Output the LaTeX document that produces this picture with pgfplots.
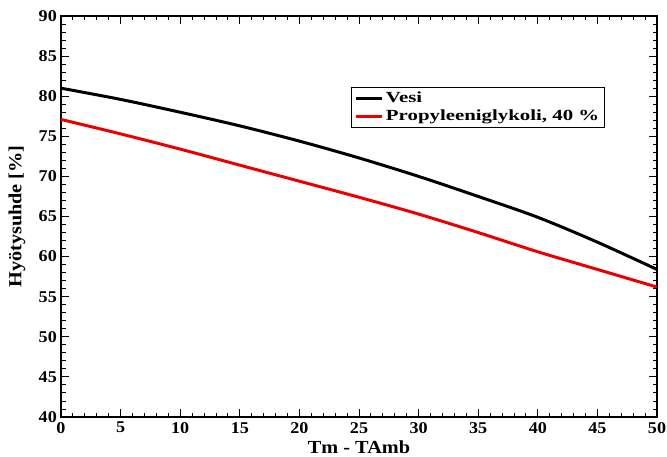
\documentclass[border=0pt]{standalone}
\usepackage{fontspec}
\setmainfont{Liberation Serif}[FakeStretch=1.1]
\newfontfamily\legfont{Liberation Serif}[FakeStretch=1.35]
\usepackage{pgfplots}
\pgfplotsset{compat=1.18}

\begin{document}
\begin{tikzpicture}
\begin{axis}[
    width=596bp, height=401bp, scale only axis,
    xmin=0, xmax=50, ymin=40, ymax=90,
    xtick distance=5, ytick distance=5,
    minor x tick num=4, minor y tick num=4,
    tick align=inside,
    major tick length=8bp, minor tick length=4.5bp,
    axis line style={line width=1.2bp},
    every tick/.style={line width=0.9bp, black},
    /pgf/number format/assume math mode=true,
    tick label style={font=\fontsize{16.5}{16.5}\selectfont\bfseries},
    xticklabel style={inner sep=0pt, yshift=-5bp},
    yticklabel style={inner sep=0pt, xshift=-4bp},
    xlabel={Tm - TAmb},
    ylabel={Hyötysuhde [\%]},
    label style={font=\fontsize{18.5}{18.5}\selectfont\bfseries},
    xlabel style={at={(axis description cs:0.5,0)}, anchor=center, yshift=-30bp},
    ylabel style={at={(axis description cs:0,0.5)}, anchor=center, yshift=44bp},
    legend style={at={(0.486,0.824)}, anchor=north west, draw=black,
        line width=0.8bp, font=\legfont\fontsize{15.5}{15.5}\selectfont\bfseries,
        inner xsep=3pt, inner ysep=3pt, row sep=2pt},
    legend cell align=left,
    legend image code/.code={\draw[#1] (0cm,0cm) -- (0.95cm,0cm);},
]
\addplot[black, line width=3bp, smooth] coordinates {
(0,81.0) (5,79.6) (10,78.0) (15,76.3) (20,74.4) (25,72.3)
(30,70.0) (35,67.5) (40,64.9) (45,61.8) (50,58.4)};
\addplot[red!92!black, line width=3bp, smooth] coordinates {
(0,77.1) (5,75.3) (10,73.4) (15,71.4) (20,69.4) (25,67.4)
(30,65.3) (35,63.0) (40,60.6) (45,58.4) (50,56.2)};
\legend{Vesi, {Propyleeniglykoli, 40 \%}}
\end{axis}
\path ([shift={(-61bp,-39bp)}]current axis.south west)
      ([shift={(10bp,16bp)}]current axis.north east);
\end{tikzpicture}
\end{document}
